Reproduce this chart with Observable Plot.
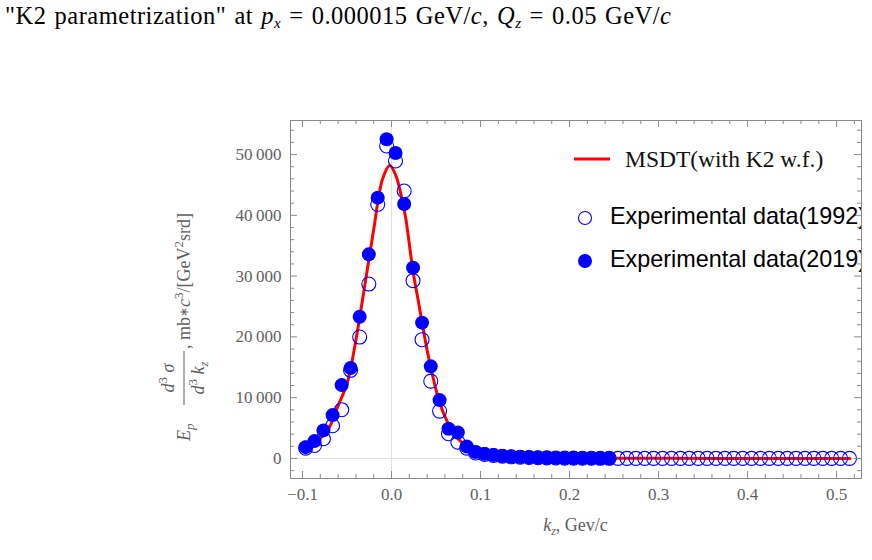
<!DOCTYPE html>
<html><head><meta charset="utf-8">
<script src="https://cdn.jsdelivr.net/npm/d3@7"></script>
<script src="https://cdn.jsdelivr.net/npm/@observablehq/plot@0.6"></script>
<style>
body{margin:0;background:#fff;width:872px;height:560px;overflow:hidden;font-family:"Liberation Serif",serif;}
#title{height:40px;box-sizing:border-box;padding:3px 0 0 5px;font-size:24.5px;letter-spacing:0.5px;word-spacing:1.5px;line-height:26px;white-space:nowrap;color:#000}
#title sub{font-size:15px;vertical-align:-4px;line-height:0}
#chart svg{display:block}
</style></head><body>
<div id="title">"K2 parametrization" at <i>p<sub>x</sub></i> = 0.000015 GeV/<i>c</i>, <i>Q<sub>z</sub></i> = 0.05 GeV/<i>c</i></div>
<div id="chart"></div>
<script>
// ---- data ----
const kz2019 = [-0.0965,-0.0865,-0.0765,-0.0662,-0.056,-0.046,-0.0358,-0.0255,-0.0155,-0.0055,0.0045,0.0142,0.0242,0.0343,0.0441,0.054,0.064,0.0745,0.0845,0.0945,0.1045,0.1145,0.1245,0.1345,0.1445,0.1545,0.1645,0.1745,0.1845,0.1945,0.2045,0.2145,0.2245,0.2345,0.2445];
const sigma2019 = [1860,2850,4610,7130,12070,14870,23320,33580,42910,52510,50260,41860,31390,22340,15150,9600,4890,4280,1970,1050,750,550,400,300,230,180,140,110,90,70,55,45,35,30,25];
const kz1992 = [-0.0965,-0.0865,-0.0765,-0.0662,-0.056,-0.046,-0.0358,-0.0255,-0.0155,-0.0055,0.0045,0.0142,0.0242,0.0343,0.0441,0.054,0.064,0.0745,0.0845,0.0945,0.1045,0.1145,0.1245,0.1345,0.1445,0.1545,0.1645,0.1745,0.1845,0.1945,0.2045,0.2145,0.2245,0.2345,0.2445,0.2545,0.2645,0.2745,0.2845,0.2945,0.3045,0.3145,0.3245,0.3345,0.3445,0.3545,0.3645,0.3745,0.3845,0.3945,0.4045,0.4145,0.4245,0.4345,0.4445,0.4545,0.4645,0.4745,0.4845,0.4945,0.5045,0.5145];
const sigma1992 = [1700,2140,3240,5380,8020,14500,19970,28690,41810,51400,48940,44000,29250,19540,12720,7790,4060,2690,1700,900,650,480,360,270,200,160,120,100,80,60,50,40,30,25,20,18,16,15,14,13,12,11,10,10,9,9,8,8,7,7,7,6,6,6,5,5,5,5,4,4,4,4];
const kzTheory = [-0.0965,-0.09,-0.08,-0.07,-0.06,-0.05,-0.04,-0.03,-0.02,-0.01,-0.002,0.005,0.01,0.0158,0.0214,0.025,0.03,0.035,0.04,0.045,0.05,0.055,0.06,0.07,0.08,0.09,0.1,0.12,0.15,0.2,0.25,0.3,0.4,0.515];
const sigmaTheory = [1700,2150,3300,5100,8700,12300,19500,28500,37700,46000,48200,46500,43800,39700,33700,30000,26000,21800,17800,14400,11300,8800,6900,4100,2500,1600,1100,600,280,100,40,20,8,3];
const xTicks = [-0.1,0,0.1,0.2,0.3,0.4,0.5];
const xTickLabels = ["\u22120.1","0.0","0.1","0.2","0.3","0.4","0.5"];
const yTicks = [0,10000,20000,30000,40000,50000];
const yTickLabels = ["0","10\u2009000","20\u2009000","30\u2009000","40\u2009000","50\u2009000"];
const legendLabels = ["MSDT(with K2 w.f.)","Experimental data(1992)","Experimental data(2019)"];

const xMinor = d3.range(-0.1, 0.53, 0.02).filter(v => Math.abs(v*10 - Math.round(v*10)) > 1e-6);
const yMinor = d3.range(-2000, 55601, 2000).filter(v => v % 10000 !== 0);

const d2019 = kz2019.map((k,i)=>({k, s:sigma2019[i]}));
const d1992 = kz1992.map((k,i)=>({k, s:sigma1992[i]}));
const dTh = kzTheory.map((k,i)=>({k, s:sigmaTheory[i]}));

const W = 872, H = 520, mL = 290, mR = 11, mT = 80, mB = 82;
const fw = W - mL - mR, fh = H - mT - mB;
const frameC = "#8a8a8a", labC = "#5f5f5f";

const plot = Plot.plot({
  width: W, height: H,
  marginLeft: mL, marginRight: mR, marginTop: mT, marginBottom: mB,
  style: {fontFamily: "Liberation Serif", fontSize: "17px", background: "#fff"},
  x: {domain: [-0.1135, 0.528]},
  y: {domain: [-3300, 55600]},
  marks: [
    Plot.ruleX([0], {stroke: "#e2e2e2", strokeWidth: 1}),
    Plot.ruleY([0], {stroke: "#e2e2e2", strokeWidth: 1}),
    Plot.line(dTh, {x: "k", y: "s", stroke: "#ff0000", strokeWidth: 3, curve: "catmull-rom"}),
    Plot.dot(d1992, {x: "k", y: "s", r: 7, stroke: "#0000ff", strokeWidth: 1.1, fill: "none"}),
    Plot.dot(d2019, {x: "k", y: "s", r: 7, fill: "#0000ff", stroke: "none"}),
    Plot.frame({stroke: frameC}),
    // frame ticks (inward)
    Plot.ruleX(xTicks, {x: d=>d, insetTop: fh-7, stroke: frameC}),
    Plot.ruleX(xTicks, {x: d=>d, insetBottom: fh-7, stroke: frameC}),
    Plot.ruleX(xMinor, {x: d=>d, insetTop: fh-4, stroke: frameC}),
    Plot.ruleX(xMinor, {x: d=>d, insetBottom: fh-4, stroke: frameC}),
    Plot.ruleY(yTicks, {y: d=>d, insetRight: fw-7, stroke: frameC}),
    Plot.ruleY(yTicks, {y: d=>d, insetLeft: fw-7, stroke: frameC}),
    Plot.ruleY(yMinor, {y: d=>d, insetRight: fw-4, stroke: frameC}),
    Plot.ruleY(yMinor, {y: d=>d, insetLeft: fw-4, stroke: frameC}),
    Plot.axisX({ticks: xTicks, tickSize: 0, tickPadding: 9, label: null, color: labC,
      tickFormat: d => xTickLabels[xTicks.indexOf(d)]}),
    Plot.axisY({ticks: yTicks, tickSize: 0, tickPadding: 9, label: null, color: labC,
      tickFormat: d => yTickLabels[yTicks.indexOf(d)]})
  ]
});
document.getElementById("chart").appendChild(plot);

const svg = d3.select(plot);
function rich(parent, x, y, parts, anchor) {
  const t = parent.append("text").attr("x", x).attr("y", y).attr("text-anchor", anchor || "start");
  parts.forEach(p => {
    const s = t.append("tspan").text(p.t);
    if (p.i) s.attr("font-style", "italic");
    if (p.fs) s.attr("font-size", p.fs);
    if (p.dy) s.attr("dy", p.dy);
  });
  return t;
}
// x label
const xl = svg.append("g").attr("fill", labC).style("font-size", "18px");
rich(xl, (mL + W - mR)/2, 491, [{t:"k", i:1},{t:"z", i:1, fs:"12px", dy:4},{t:", Gev/c", dy:-4}], "middle");

// y label (rotated)
const yl = svg.append("g").attr("transform", "translate(183,260) rotate(-90)").attr("fill", labC).style("font-size", "18px");
rich(yl, -141, 7, [{t:"E", i:1},{t:"p", i:1, fs:"13px", dy:4}]);
rich(yl, -78, -9, [{t:"d", i:1},{t:"3", fs:"13px", dy:-7},{t:" \u03c3", i:1, dy:7}], "middle");
rich(yl, -78, 21, [{t:"d", i:1},{t:"3", fs:"13px", dy:-7},{t:" k", i:1, dy:7},{t:"z", i:1, fs:"13px", dy:4}], "middle");
yl.append("line").attr("x1", -105).attr("x2", -51).attr("y1", 1).attr("y2", 1).attr("stroke", labC).attr("stroke-width", 1);
rich(yl, -49, 7, [{t:", "},{t:"mb"},{t:"\u2217", fs:"12px", dy:-2},{t:"c", i:1, dy:2},{t:"3", fs:"13px", dy:-7},{t:"/[GeV", dy:7},{t:"2", fs:"13px", dy:-7},{t:"srd]", dy:7}]);

// legend (clipped at frame)
svg.append("clipPath").attr("id", "lgclip").append("rect").attr("x", mL).attr("y", mT).attr("width", fw).attr("height", fh);
const lg = svg.append("g").attr("clip-path", "url(#lgclip)").attr("text-anchor", "start");
lg.append("line").attr("x1", 574).attr("x2", 610).attr("y1", 119).attr("y2", 119).attr("stroke", "#ff0000").attr("stroke-width", 3);
lg.append("text").attr("x", 625).attr("y", 127).attr("text-anchor", "start").style("font-family", "Liberation Serif").style("font-size", "23.5px").attr("fill", "#111").text(legendLabels[0]);
lg.append("circle").attr("cx", 585).attr("cy", 178).attr("r", 6.5).attr("fill", "none").attr("stroke", "#0000ff").attr("stroke-width", 1.1);
lg.append("text").attr("x", 610).attr("y", 183.5).attr("text-anchor", "start").style("font-family", "Liberation Sans").style("font-size", "23.4px").attr("fill", "#000").text(legendLabels[1]);
lg.append("circle").attr("cx", 585).attr("cy", 221).attr("r", 7).attr("fill", "#0000ff");
lg.append("text").attr("x", 610).attr("y", 226.5).attr("text-anchor", "start").style("font-family", "Liberation Sans").style("font-size", "23.4px").attr("fill", "#000").text(legendLabels[2]);
</script>
</body></html>
